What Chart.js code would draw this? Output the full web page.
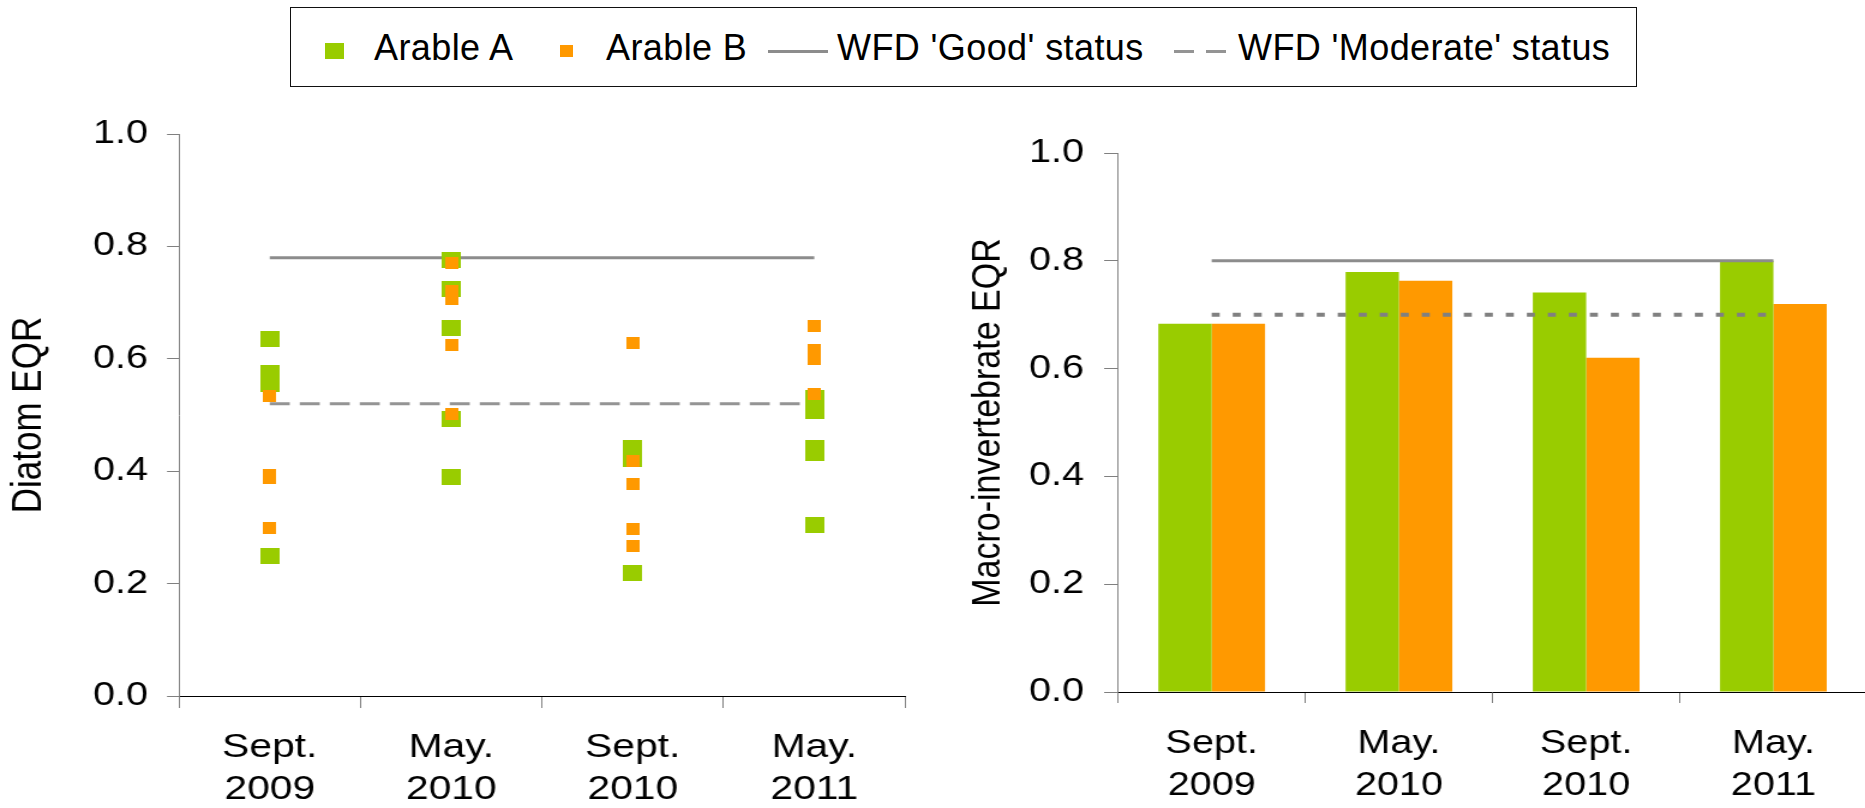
<!DOCTYPE html>
<html>
<head>
<meta charset="utf-8">
<title>Diatom and macro-invertebrate EQR</title>
<script src="https://cdn.jsdelivr.net/npm/chart.js@4.4.1/dist/chart.umd.min.js"></script>
<style>
  html, body { margin: 0; padding: 0; background: #fff; overflow: hidden; }
  body { width: 1865px; height: 808px; position: relative; font-family: 'Liberation Sans', Arial, sans-serif; }
  .legend { position: absolute; left: 290px; top: 7px; width: 1347px; height: 80px; box-sizing: border-box; border: 1px solid #111; }
  .legend .mk, .legend .ln, .legend .txt { position: absolute; }
  .legend .txt { top: 22px; font-size: 36px; line-height: 36px; color: #000; white-space: nowrap; letter-spacing: 0.4px; }
  .legend .ln { height: 3px; background: #8c8c8c; }
  .panel { position: absolute; top: 90px; height: 718px; }
  /* the original figure is a little wider than it is tall, so the canvases are drawn narrower and stretched */
  .panel canvas { height: 718px; }
</style>
</head>
<body>
<div class="legend" id="legend"></div>
<div class="panel" style="left:0; width:930px;"><canvas id="diatomChart" width="775" height="718" style="width:930px"></canvas></div>
<div class="panel" style="left:930px; width:940px;"><canvas id="macroChart" width="783" height="718" style="width:940px"></canvas></div>
<script>
// categories (sampling dates)
const categories = ['Sept. 2009', 'May. 2010', 'Sept. 2010', 'May. 2011'];
const eqrTicks = [0, 0.2, 0.4, 0.6, 0.8, 1.0];

// diatom EQR, one list of sites per date
const diatomArableA = [
    [0.635, 0.574, 0.555, 0.250],
    [0.776, 0.725, 0.654, 0.492, 0.389],
    [0.441, 0.421, 0.218],
    [0.530, 0.508, 0.441, 0.433, 0.304]
];
const diatomArableB = [
    [0.534, 0.394, 0.388, 0.299],
    [0.771, 0.720, 0.706, 0.624, 0.501],
    [0.628, 0.419, 0.378, 0.298, 0.267],
    [0.658, 0.616, 0.599, 0.538]
];
const diatomGood = 0.78;
const diatomModerate = 0.52;

// macro-invertebrate EQR
const macroArableA = [0.683, 0.779, 0.741, 0.800];
const macroArableB = [0.683, 0.763, 0.620, 0.720];
const macroGood = 0.80;
const macroModerate = 0.70;

const green = '#99cc00';
const orange = '#ff9900';
const refGrey = '#8c8c8c';
const STRETCH = 1.2; // css width / canvas width
const sx = v => v / STRETCH;

Chart.defaults.font.family = "'Liberation Sans', Arial, sans-serif";
Chart.defaults.color = '#000';

function squareMarker(w, h, color) {
    const c = document.createElement('canvas');
    c.width = w;
    c.height = h;
    const g = c.getContext('2d');
    g.fillStyle = color;
    g.fillRect(0, 0, w, h);
    return c;
}
const greenMarker = squareMarker(16, 16, green);
const orangeMarker = squareMarker(11, 12, orange);

function toPoints(groups) {
    return groups.flatMap((vals, i) => vals.map(v => ({x: categories[i], y: v})));
}
function flatLine(value) {
    return categories.map(() => value);
}

function eqrAxis(opts) {
    return {
        min: 0,
        max: 1,
        afterBuildTicks: s => { s.ticks = eqrTicks.map(v => ({value: v})); },
        afterFit: s => { s.width = sx(opts.width); },
        grid: {drawOnChartArea: false, tickLength: sx(opts.tickLength), color: '#808080'},
        border: {color: '#808080', width: 1},
        ticks: {padding: sx(opts.padding), font: {size: opts.size}, callback: v => v.toFixed(1)},
        title: {display: true, text: opts.title, font: {size: opts.titleSize}, padding: {top: opts.titlePad, bottom: 0}}
    };
}
function dateAxis(opts) {
    return {
        type: 'category',
        offset: true,
        afterFit: s => { s.height = opts.height; },
        grid: {offset: true, drawOnChartArea: false, tickLength: opts.tickLength, color: '#808080'},
        border: {color: '#000', width: 1},
        ticks: {
            padding: opts.padding,
            maxRotation: 0,
            autoSkip: false,
            font: {size: opts.size, lineHeight: opts.lineHeight},
            callback: (v, i) => categories[i].split(' ')
        }
    };
}

const diatomChart = new Chart(document.getElementById('diatomChart'), {
    type: 'line',
    data: {
        labels: categories,
        datasets: [{
                label: 'Arable B',
                data: toPoints(diatomArableB),
                showLine: false,
                pointStyle: orangeMarker,
                pointRadius: 7,
                order: 0
            }, {
                label: 'Arable A',
                data: toPoints(diatomArableA),
                showLine: false,
                pointStyle: greenMarker,
                pointRadius: 9,
                order: 1
            }, {
                label: "WFD 'Good' status",
                data: flatLine(diatomGood),
                borderColor: refGrey,
                borderWidth: 3,
                pointRadius: 0,
                order: 2
            }, {
                label: "WFD 'Moderate' status",
                data: flatLine(diatomModerate),
                borderColor: '#949494',
                borderWidth: 3,
                borderDash: [sx(20), sx(10)],
                pointRadius: 0,
                order: 3
            }]
    },
    options: {
        responsive: false,
        animation: false,
        events: [],
        layout: {padding: {top: 44, right: sx(25), bottom: 0, left: 0}},
        plugins: {legend: {display: false}, tooltip: {enabled: false}},
        scales: {
            x: dateAxis({height: 112, tickLength: 12, padding: 18, size: 34, lineHeight: 1.25}),
            y: eqrAxis({width: 179, tickLength: 12, padding: 19, size: 33, title: 'Diatom EQR', titleSize: 35, titlePad: 3.5})
        }
    }
});

const macroChart = new Chart(document.getElementById('macroChart'), {
    type: 'bar',
    data: {
        labels: categories,
        datasets: [{
                label: 'Arable A',
                data: macroArableA,
                backgroundColor: green,
                borderWidth: 0,
                order: 1
            }, {
                label: 'Arable B',
                data: macroArableB,
                backgroundColor: orange,
                borderWidth: 0,
                order: 1
            }, {
                type: 'line',
                label: "WFD 'Good' status",
                data: flatLine(macroGood),
                borderColor: refGrey,
                borderWidth: 3,
                pointRadius: 0,
                order: 0
            }, {
                type: 'line',
                label: "WFD 'Moderate' status",
                data: flatLine(macroModerate),
                borderColor: '#808080',
                borderWidth: 4,
                borderDash: [sx(8), sx(13)],
                pointRadius: 0,
                order: 0
            }]
    },
    options: {
        responsive: false,
        animation: false,
        events: [],
        barPercentage: 1,
        categoryPercentage: 0.57,
        layout: {padding: {top: 63, right: sx(3), bottom: 0, left: 0}},
        plugins: {legend: {display: false}, tooltip: {enabled: false}},
        scales: {
            x: dateAxis({height: 116, tickLength: 11, padding: 20, size: 33, lineHeight: 1.27}),
            y: eqrAxis({width: 188, tickLength: 14, padding: 20, size: 33, title: 'Macro-invertebrate EQR', titleSize: 34, titlePad: 28})
        }
    }
});

// shared legend for both panels
function drawLegend() {
    const box = document.getElementById('legend');
    const items = [
        '<div class="mk" style="left:34px;top:35px;width:19px;height:16px;background:' + green + '"></div>',
        '<div class="txt" style="left:83px">Arable A</div>',
        '<div class="mk" style="left:269px;top:37px;width:13px;height:12px;background:' + orange + '"></div>',
        '<div class="txt" style="left:315px">Arable B</div>',
        '<div class="ln" style="left:477px;top:42px;width:60px"></div>',
        '<div class="txt" style="left:546px">WFD \'Good\' status</div>',
        '<div class="ln" style="left:883px;top:42px;width:20px;background:#949494"></div>',
        '<div class="ln" style="left:915px;top:42px;width:20px;background:#949494"></div>',
        '<div class="txt" style="left:947px">WFD \'Moderate\' status</div>'
    ];
    box.innerHTML = items.join('');
}
drawLegend();
</script>
</body>
</html>
